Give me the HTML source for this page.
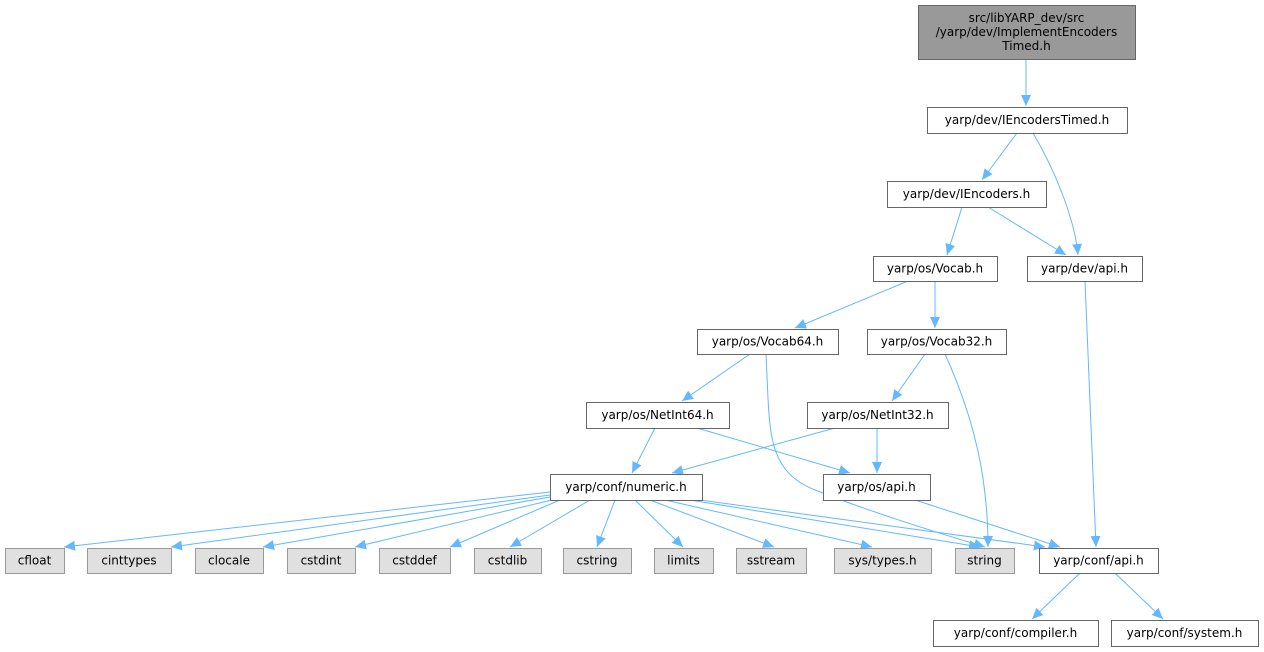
<!DOCTYPE html>
<html><head><meta charset="utf-8"><style>
html,body{margin:0;padding:0;background:#fff;width:1264px;height:652px;overflow:hidden}
svg{display:block}
text{font-family:"DejaVu Sans","Liberation Sans",sans-serif;font-size:12px;fill:#000}
</style></head><body>
<svg id="s" width="1264" height="652" xmlns="http://www.w3.org/2000/svg">
<defs><marker id="a" markerWidth="12" markerHeight="12" refX="11" refY="5.5" orient="auto" markerUnits="userSpaceOnUse"><path d="M0,0.5 L11,5.5 L0,10.5 Z" fill="#63b8ff"/></marker></defs>
<g id="e" fill="none" stroke="#63b8ff" stroke-width="1"></g>
<g id="n"></g>
</svg>
<script>
var E=document.getElementById('e'),N=document.getElementById('n'),ns='http://www.w3.org/2000/svg';
function p(d,m){var e=document.createElementNS(ns,'path');e.setAttribute('d',d);if(m!==false)e.setAttribute('marker-end','url(#a)');E.appendChild(e);}
function L(x1,y1,x2,y2){p('M'+x1+','+y1+' L'+x2+','+y2);}
function C(x1,y1,cx1,cy1,cx2,cy2,x2,y2){p('M'+x1+','+y1+' C'+cx1+','+cy1+' '+cx2+','+cy2+' '+x2+','+y2);}
function B(x,y,w,h,t,g){var r=document.createElementNS(ns,'rect');r.setAttribute('x',x+.5);r.setAttribute('y',y+.5);r.setAttribute('width',w);r.setAttribute('height',h);
r.setAttribute('fill',g==2?'#999999':g?'#e0e0e0':'#fff');r.setAttribute('stroke',g==1?'#999999':'#666666');N.appendChild(r);
var lines=t.split('|');lines.forEach(function(s,i){var tx=document.createElementNS(ns,'text');tx.setAttribute('x',x+w/2);tx.setAttribute('y',y+h/2+4+(i-(lines.length-1)/2)*14);tx.setAttribute('text-anchor','middle');tx.textContent=s;N.appendChild(tx);});}
L(1026,59,1026,106);
L(1017,133,982,180);
C(1033,133,1055,170,1075,220,1078,255);
L(962,207,947,255);
L(988,207,1066,255);
L(908,281,795,328);
L(935,281,935,328);
L(1085,281,1096,547);
L(750,354,682,401);
p('M766,354 C770,430 765,470 815,490 C870,512 935,532 985,547');
L(925,354,892,401);
C(945,354,975,420,988,480,988,547);
L(655,428,632,473);
L(697,428,850,473);
L(835,428,672,473);
L(877,428,877,473);
L(915,500,1060,547);
var bx=[[64,550,492],[171,550,495],[263,550,497],[355,552,500],[450,560,500],[510,590,500],[597,615,500],[683,635,500],[774,650,500],[872,665,500],[980,690,500],[1045,700,500]];
bx.forEach(function(b){p('M'+b[1]+','+b[2]+' L'+b[0]+',547');});
L(1080,573,1032,619);
L(1115,573,1163,619);
B(918,5,217,54,'src/libYARP_dev/src|/yarp/dev/ImplementEncoders|Timed.h',2);
B(927,107,200,26,'yarp/dev/IEncodersTimed.h');
B(887,181,159,26,'yarp/dev/IEncoders.h');
B(873,256,124,25,'yarp/os/Vocab.h');
B(1027,256,115,25,'yarp/dev/api.h');
B(697,329,141,25,'yarp/os/Vocab64.h');
B(867,329,139,25,'yarp/os/Vocab32.h');
B(586,402,143,26,'yarp/os/NetInt64.h');
B(807,402,141,26,'yarp/os/NetInt32.h');
B(550,474,152,26,'yarp/conf/numeric.h');
B(823,474,107,26,'yarp/os/api.h');
B(5,548,59,25,'cfloat',1);
B(87,548,84,25,'cinttypes',1);
B(195,548,68,25,'clocale',1);
B(287,548,68,25,'cstdint',1);
B(379,548,71,25,'cstddef',1);
B(474,548,67,25,'cstdlib',1);
B(563,548,68,25,'cstring',1);
B(654,548,59,25,'limits',1);
B(736,548,70,25,'sstream',1);
B(834,548,97,25,'sys/types.h',1);
B(955,548,59,25,'string',1);
B(1039,548,119,25,'yarp/conf/api.h');
B(933,620,165,26,'yarp/conf/compiler.h');
B(1111,620,147,26,'yarp/conf/system.h');
</script>
</body></html>
